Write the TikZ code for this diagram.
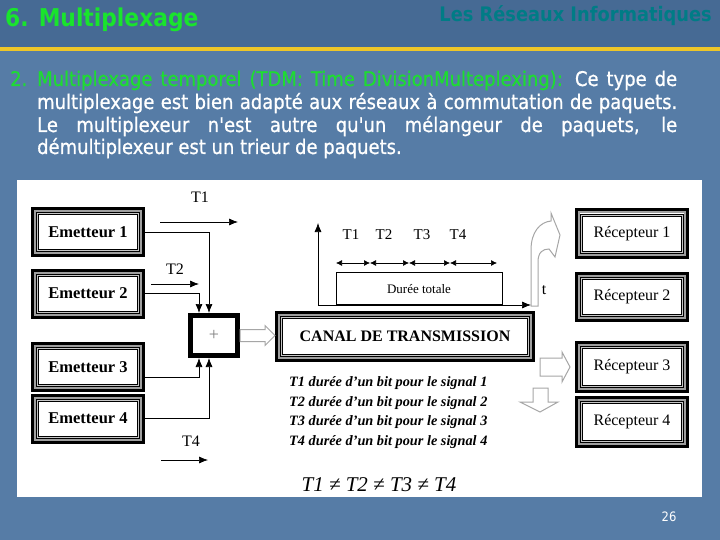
\documentclass[tikz,border=0pt]{standalone}
\usepackage{fontspec}
\setmainfont{Liberation Serif}
\newfontfamily\slidefont{DejaVu Sans}[FakeStretch=0.89]
\newfontfamily\slidebody{DejaVu Sans}[FakeStretch=0.89, FakeBold=0.8]
\usetikzlibrary{arrows.meta,calc,positioning}

\definecolor{headbg}{RGB}{70,106,148}
\definecolor{bodybg}{RGB}{86,124,166}
\definecolor{barcol}{RGB}{238,198,40}
\definecolor{titlegreen}{RGB}{25,228,45}
\definecolor{bodygreen}{RGB}{30,220,50}
\definecolor{headteal}{RGB}{0,124,134}

\newcommand{\fs}[1]{\fontsize{#1}{#1}\selectfont}
\newcommand{\boxinset}[3]{\draw[#1, line width=#2] ($(path picture bounding box.south west)+(#3,#3)$) rectangle ($(path picture bounding box.north east)-(#3,#3)$);}

\begin{document}
\begin{tikzpicture}[x=1pt, y=-1pt,
  unitbox/.style={draw=black, line width=3pt, fill=white, inner sep=0pt,
    minimum width=111pt, minimum height=47pt,
    path picture={\boxinset{gray!75}{2pt}{2.5pt}\boxinset{black}{0.9pt}{4pt}\boxinset{gray!45}{0.8pt}{5pt}\boxinset{black}{0.7pt}{5.9pt}}},
  emit/.style={unitbox, font=\fs{16.5}\bfseries},
  recv/.style={unitbox, font=\fs{16}},
  muxbox/.style={draw=black, line width=5pt, fill=white, minimum width=47pt, minimum height=40pt},
  sig/.style={-{Latex[length=9pt,width=7pt]}, line width=0.7pt},
  dbl/.style={{Latex[length=6pt,width=6pt]}-{Latex[length=6pt,width=6pt]}, line width=0.7pt},
  hollow/.style={draw=gray!70, line width=1pt, fill=white},
  lbl/.style={inner sep=0pt, font=\fs{15}},
  legend/.style={inner sep=0pt, anchor=west, font=\fs{14.3}\bfseries\itshape},
  slide/.style={inner sep=0pt, anchor=base west, text=white, font=\slidebody\fs{20.2}}]

  \useasboundingbox (0,0) rectangle (720,540);
  \fill[bodybg] (0,0) rectangle (720,540);
  \fill[headbg] (0,0) rectangle (720,47);
  \fill[barcol] (0,47) rectangle (720,51);

  % slide header and text
  \node[inner sep=0pt, anchor=base west, text=titlegreen, font=\slidefont\fs{24.5}\bfseries] (title) at (5,27) {6. Multiplexage};
  \node[inner sep=0pt, anchor=base east, text=headteal, font=\slidefont\fs{20}\bfseries] (topic) at (712,22) {Les Réseaux Informatiques};

  \node[slide, text=bodygreen] (num) at (10,86) {2.};
  \node[slide] (line1) at (37,86) {\makebox[640pt][s]{\textcolor{bodygreen}{Multiplexage temporel (TDM: Time DivisionMulteplexing):} Ce type de}};
  \node[slide] (line2) at (37,109) {\makebox[640pt][s]{multiplexage est bien adapté aux réseaux à commutation de paquets.}};
  \node[slide] (line3) at (37,132) {\makebox[640pt][s]{Le multiplexeur n'est autre qu'un mélangeur de paquets, le}};
  \node[slide] (line4) at (37,154) {démultiplexeur est un trieur de paquets.};

  \fill[white] (17,180) rectangle (702,497);

  % emetteurs
  \node[emit] (e1) at (88,232) {Emetteur 1};
  \node[emit] (e2) at (88,293.5) {Emetteur 2};
  \node[emit] (e3) at (88,367) {Emetteur 3};
  \node[emit] (e4) at (88,418.5) {Emetteur 4};

  \node[muxbox] (mux) at (214,335.5) {\textcolor{gray}{\fs{18}+}};

  \draw[sig] (e1.east) -| ($(mux.north)+(-5,0)$);
  \draw[sig] (e2.east) -| ($(mux.north)+(-15,0)$);
  \draw[sig] ($(e3.east)+(0,10)$) -| ($(mux.south)+(-15,0)$);
  \draw[sig] (e4.east) -| ($(mux.south)+(-5,0)$);

  \coordinate (ta1) at (160,222);
  \coordinate (tb1) at (238,222);
  \coordinate (ta2) at (151,284);
  \coordinate (tb2) at (199,284);
  \coordinate (ta4) at (161,460);
  \coordinate (tb4) at (208,460);
  \draw[sig] (ta1) -- (tb1);
  \draw[sig] (ta2) -- (tb2);
  \draw[sig] (ta4) -- (tb4);
  \node[lbl, font=\fs{16}] (lblone) at (200,197) {T1};
  \node[lbl, font=\fs{16}] (lbltwo) at (175,269) {T2};
  \node[lbl, font=\fs{16}] (lblfour) at (191,441) {T4};

  % canal
  \node[unitbox, minimum width=257pt, minimum height=48pt, font=\fs{16}\bfseries] (canal) at (405,336.5) {CANAL DE TRANSMISSION};
  \coordinate (tip) at (canal.west |- mux.east);
  \draw[hollow] ($(mux.east)+(0,-6)$) -- ($(tip)+(-10,-6)$) -- ($(tip)+(-10,-10)$) -- (tip)
    -- ($(tip)+(-10,10)$) -- ($(tip)+(-10,6)$) -- ($(mux.east)+(0,6)$) -- cycle;

  % time axis
  \coordinate (origin) at (318,305);
  \coordinate (yend) at (318,223);
  \coordinate (xend) at (531,305);
  \draw[hollow] (531,306) -- (531,250) .. controls (531,232) and (540,222) .. (551,221) -- (551,213) -- (560,235)
    -- (555,257) -- (549,249) .. controls (543,249) and (538,252) .. (538,262) -- (538,306) -- cycle;
  \node[draw, line width=0.7pt, inner sep=0pt, minimum width=166pt, minimum height=32pt, anchor=south, font=\fs{13}] (total) at (419,305) {Durée totale};
  \draw[sig] (origin) -- (yend);
  \draw[sig] (origin) -- (xend);
  \foreach \x [count=\i] in {336,370,409,450,497}
    \coordinate (m\i) at (\x,263);
  \foreach \i/\j in {1/2,2/3,3/4,4/5}
    \draw[dbl] (m\i) -- (m\j);
  \node[lbl] (tone) at (351,235) {T1};
  \node[lbl] (ttwo) at (384,235) {T2};
  \node[lbl] (tthree) at (422,235) {T3};
  \node[lbl] (tfour) at (458,235) {T4};
  \node[lbl, font=\fs{16}] (tlbl) at (544,290) {t};

  % outputs
  \draw[hollow] (540,358) -- (562,358) -- (562,352) -- (570,367) -- (562,382) -- (562,376) -- (540,376) -- cycle;
  \draw[hollow] (533,388) -- (548,388) -- (548,402) -- (558,402) -- (540,412) -- (520,402) -- (533,402) -- cycle;

  % recepteurs
  \node[recv] (r1) at (632,233.5) {Récepteur 1};
  \node[recv] (r2) at (632,297) {Récepteur 2};
  \node[recv, minimum height=49pt] (r3) at (632,367) {Récepteur 3};
  \node[recv, minimum height=49pt] (r4) at (632,422) {Récepteur 4};

  % legend
  \node[legend] (leg1) at (289,383) {T1 durée d’un bit pour le signal 1};
  \node[legend] (leg2) at (289,403) {T2 durée d’un bit pour le signal 2};
  \node[legend] (leg3) at (289,422) {T3 durée d’un bit pour le signal 3};
  \node[legend] (leg4) at (289,442) {T4 durée d’un bit pour le signal 4};
  \node[inner sep=0pt, font=\fs{21}\itshape] (neq) at (379,485) {T1 ≠ T2 ≠ T3 ≠ T4};

  \node[inner sep=0pt, text=white, font=\slidefont\fs{13}] (page) at (669,517) {26};
\end{tikzpicture}
\end{document}
